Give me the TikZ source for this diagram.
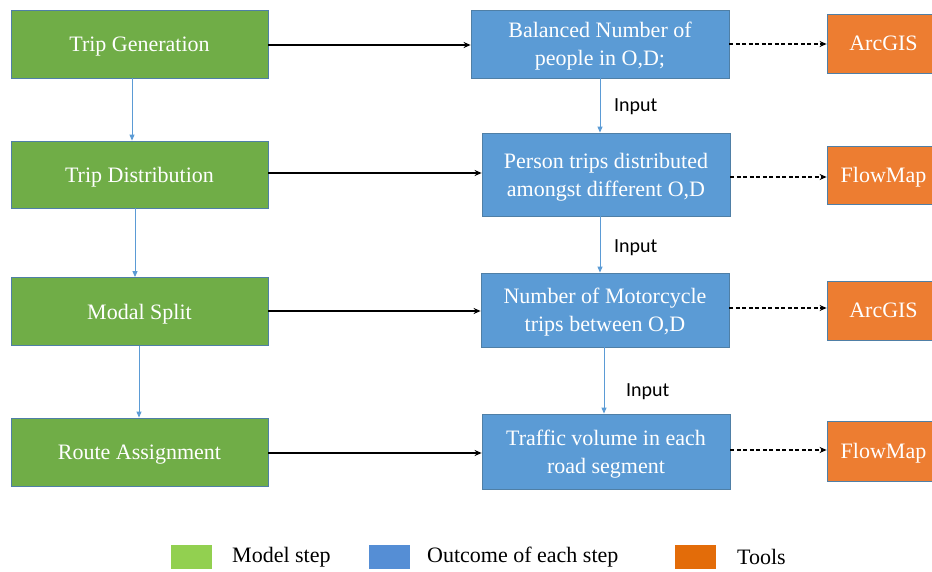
\documentclass[tikz,border=0pt]{standalone}
\usepackage{fontspec}
\setmainfont{Liberation Serif}
\newfontfamily\labelfont{Carlito}
\usetikzlibrary{arrows.meta,positioning,calc}

\definecolor{stepgreen}{HTML}{70AD47}
\definecolor{outblue}{HTML}{5B9BD5}
\definecolor{toolorange}{HTML}{ED7D31}
\definecolor{edgeblue}{HTML}{4F7FA6}
\definecolor{keygreen}{HTML}{92D050}
\definecolor{keyblue}{HTML}{558ED5}
\definecolor{keyorange}{HTML}{E36C09}

\tikzset{
  boxbase/.style={rectangle, draw=edgeblue, line width=0.8pt, text=white,
    align=center, inner sep=0pt, text depth=0pt,
    font=\fontsize{22}{28}\selectfont},
  stepbox/.style={boxbase, fill=stepgreen, minimum width=257pt, minimum height=68pt},
  outbox/.style={boxbase, fill=outblue, minimum width=248pt},
  toolbox/.style={boxbase, fill=toolorange, minimum width=113pt, minimum height=59pt},
  solidarrow/.style={line width=1.4pt, -{Stealth[length=7pt,width=6pt]}},
  dasharrow/.style={line width=1.4pt, dash pattern=on 4pt off 2.5pt, -{Stealth[length=7pt,width=6pt]}},
  flowarrow/.style={draw=outblue, line width=1pt, -{Triangle[length=6pt,width=5pt]}},
  inputlabel/.style={anchor=west, inner sep=0pt, font=\labelfont\fontsize{20}{24}\selectfont},
  keybox/.style={minimum width=41pt, minimum height=24pt, inner sep=0pt},
  keytext/.style={anchor=west, inner sep=0pt, font=\fontsize{22}{26}\selectfont},
}

\begin{document}
\begin{tikzpicture}[x=1pt,y=-1pt]
\useasboundingbox (0,0) rectangle (932,572);
\clip (0,0) rectangle (932,572);

% model steps
\node[stepbox] (tg) at (139.5,44) {Trip Generation};
\node[stepbox, minimum height=67pt] (td) at (139.5,174.5) {Trip Distribution};
\node[stepbox] (ms) at (139.5,311.5) {Modal Split};
\node[stepbox] (ra) at (139.5,452) {Route Assignment};

% outcomes
\node[outbox, minimum width=258pt, minimum height=68pt] (bn) at (600,44) {Balanced Number of\\people in O,D;};
\node[outbox, minimum height=83pt] (pt) at (606,174.5) {Person trips distributed\\amongst different O,D};
\node[outbox, minimum height=74pt] (mc) at (605,310) {Number of Motorcycle\\trips between O,D};
\node[outbox, minimum height=75pt] (tv) at (606,451.5) {Traffic volume in each\\road segment};

% tools
\node[toolbox] (t1) at (883.5,43.5) {ArcGIS};
\node[toolbox, minimum height=58pt] (t2) at (883.5,175) {FlowMap};
\node[toolbox] (t3) at (883.5,310.5) {ArcGIS};
\node[toolbox, minimum height=60pt] (t4) at (883.5,451) {FlowMap};

% step to outcome
\draw[solidarrow] ([yshift=-1pt]tg.east) -- ([yshift=-1pt]tg.east -| bn.west);
\draw[solidarrow] ([yshift=1.5pt]td.east) -- ([yshift=1.5pt]td.east -| pt.west);
\draw[solidarrow] ([yshift=0.5pt]ms.east) -- ([yshift=0.5pt]ms.east -| mc.west);
\draw[solidarrow] ([yshift=-1pt]ra.east) -- ([yshift=-1pt]ra.east -| tv.west);

% outcome to tool
\draw[dasharrow] (bn.east) -- (bn.east -| t1.west);
\draw[dasharrow] ([yshift=-2.5pt]pt.east) -- ([yshift=-2.5pt]pt.east -| t2.west);
\draw[dasharrow] ([yshift=2pt]mc.east) -- ([yshift=2pt]mc.east -| t3.west);
\draw[dasharrow] ([yshift=1.5pt]tv.east) -- ([yshift=1.5pt]tv.east -| t4.west);

% sequence of model steps
\draw[flowarrow] ([xshift=-7.5pt]tg.south) -- ([xshift=-7.5pt]tg.south |- td.north);
\draw[flowarrow] ([xshift=-4.5pt]td.south) -- ([xshift=-4.5pt]td.south |- ms.north);
\draw[flowarrow] ([xshift=-0.5pt]ms.south) -- ([xshift=-0.5pt]ms.south |- ra.north);

% outcomes feeding the next step
\draw[flowarrow] (bn.south) -- (bn.south |- pt.north);
\draw[flowarrow] ([xshift=-6pt]pt.south) -- ([xshift=-6pt]pt.south |- mc.north);
\draw[flowarrow] ([xshift=-1pt]mc.south) -- ([xshift=-1pt]mc.south |- tv.north);

\node[inputlabel] (in1) at (614,107) {Input};
\node[inputlabel] (in2) at (614,248) {Input};
\node[inputlabel] (in3) at (626,392) {Input};

% legend
\node[keybox, fill=keygreen] (k1) at (191.5,557) {};
\node[keytext] (k1t) at (232,557) {Model step};
\node[keybox, fill=keyblue] (k2) at (389,557) {};
\node[keytext] (k2t) at (427,557) {Outcome of each step};
\node[keybox, fill=keyorange] (k3) at (695.5,557) {};
\node[keytext] (k3t) at (737,557) {Tools};
\end{tikzpicture}
\end{document}
